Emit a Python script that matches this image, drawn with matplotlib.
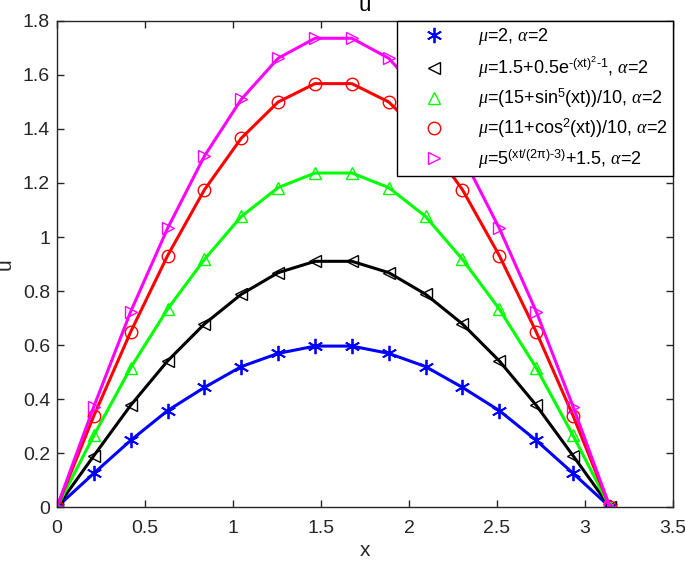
import matplotlib
matplotlib.use("Agg")
import matplotlib.pyplot as plt
from matplotlib.lines import Line2D

plt.rcParams["font.family"] = ["Liberation Sans", "DejaVu Sans"]
plt.rcParams["mathtext.fontset"] = "custom"
plt.rcParams["mathtext.rm"] = "Liberation Sans"
plt.rcParams["mathtext.it"] = "Liberation Serif:italic"

# grid points on [0, pi]
x = [0.0, 0.2094, 0.4189, 0.6283, 0.8378, 1.0472, 1.2566, 1.4661,
     1.6755, 1.8850, 2.0944, 2.3038, 2.5133, 2.7227, 2.9322, 3.1416]

u_const = [0, 0.125, 0.247, 0.357, 0.443, 0.520, 0.569, 0.596,
           0.596, 0.569, 0.520, 0.443, 0.357, 0.247, 0.125, 0]
u_exp = [0, 0.190, 0.377, 0.541, 0.678, 0.788, 0.868, 0.910,
         0.910, 0.868, 0.788, 0.678, 0.541, 0.377, 0.190, 0]
u_sin = [0, 0.265, 0.516, 0.733, 0.917, 1.076, 1.183, 1.237,
         1.237, 1.183, 1.076, 0.917, 0.733, 0.516, 0.265, 0]
u_cos = [0, 0.338, 0.649, 0.931, 1.175, 1.366, 1.500, 1.568,
         1.568, 1.500, 1.366, 1.175, 0.931, 0.649, 0.338, 0]
u_pow = [0, 0.372, 0.724, 1.032, 1.300, 1.510, 1.662, 1.736,
         1.736, 1.662, 1.510, 1.300, 1.032, 0.724, 0.372, 0]

labels = [
    r"$\mu$=2, $\alpha$=2",
    r"$\mu$=1.5+0.5e$^{\mathregular{\text{-}(xt)^2\text{-}1}}$, $\alpha$=2",
    r"$\mu$=(15+sin$^{\mathregular{5}}$(xt))/10, $\alpha$=2",
    r"$\mu$=(11+cos$^{\mathregular{2}}$(xt))/10, $\alpha$=2",
    r"$\mu$=5$^{\mathregular{(xt/(2\pi)\text{-}3)}}$+1.5, $\alpha$=2",
]
series = [u_const, u_exp, u_sin, u_cos, u_pow]
colors = ["#0000ff", "#000000", "#00ff00", "#ff0000", "#ff00ff"]
markers = ["*", "<", "^", "o", ">"]

fig = plt.figure(figsize=(6.85, 5.64), dpi=100)
ax = fig.add_axes([0.0832, 0.101, 0.8993, 0.8618])

handles = []
for ys, c, m, lab in zip(series, colors, markers, labels):
    mk = dict(marker=m, markersize=9, markerfacecolor="none",
              markeredgecolor=c, markeredgewidth=1.0)
    if m == "*":
        mk["marker"] = (6, 2, 0)
        mk["markersize"] = 11
        mk["markeredgewidth"] = 1.3
    ax.plot(x, ys, color=c, lw=2.2, **mk)
    handles.append(Line2D([], [], ls="none", label=lab, **mk))

ax.set_xlim(0, 3.5)
ax.set_ylim(0, 1.8)
ax.set_xticks([0, 0.5, 1, 1.5, 2, 2.5, 3, 3.5])
ax.set_xticklabels(["0", "0.5", "1", "1.5", "2", "2.5", "3", "3.5"])
ax.set_yticks([0, 0.2, 0.4, 0.6, 0.8, 1, 1.2, 1.4, 1.6, 1.8])
ax.set_yticklabels(["0", "0.2", "0.4", "0.6", "0.8", "1", "1.2", "1.4", "1.6", "1.8"])
ax.tick_params(direction="in", top=True, right=True, length=5, width=1,
               labelsize=14, color="#262626", labelcolor="#262626")
ax.tick_params(axis="x", pad=9)
ax.tick_params(axis="y", pad=5)
for s in ax.spines.values():
    s.set_linewidth(1.0)
    s.set_color("#262626")
ax.set_xlabel("x", fontsize=15, color="#262626", labelpad=3)
ax.set_ylabel("u", fontsize=15, color="#262626")
ax.yaxis.set_label_coords(-0.068, 0.5)
ax.set_title("u", fontsize=16, color="#000000", pad=7)

leg = ax.legend(handles=handles, loc="upper right", borderaxespad=0,
                fontsize=13, fancybox=False, edgecolor="black", framealpha=1,
                handlelength=3.6, handletextpad=0.6, labelspacing=0.38,
                borderpad=0.3)
leg.get_frame().set_linewidth(1.0)

fig.savefig("out.png", dpi=100)
